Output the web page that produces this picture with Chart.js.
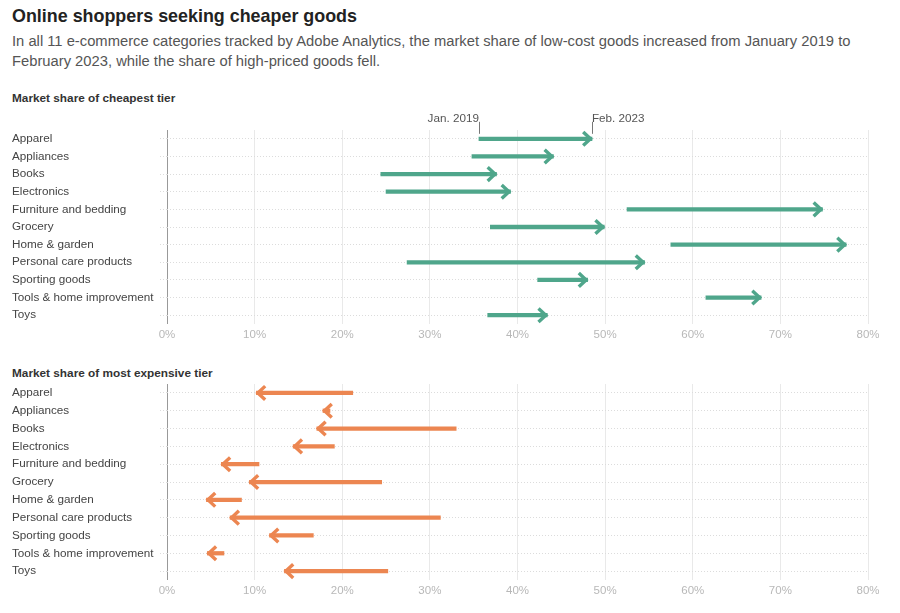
<!DOCTYPE html>
<html>
<head>
<meta charset="utf-8">
<script src="https://cdn.jsdelivr.net/npm/chart.js@4"></script>
<style>
  html, body { margin: 0; padding: 0; background: #fff; }
  body { width: 900px; height: 613px; position: relative; overflow: hidden;
         font-family: "Liberation Sans", Arial, Helvetica, sans-serif; }
  #title { position: absolute; left: 12px; top: 6px; font-size: 17.9px; font-weight: bold; color: #222; white-space: nowrap; }
  #sub { position: absolute; left: 12px; top: 31px; font-size: 14.75px; line-height: 20px; color: #555; white-space: nowrap; }
  .sec { position: absolute; left: 12px; font-size: 11.8px; font-weight: bold; color: #333; white-space: nowrap; }
  #c1wrap { position: absolute; left: 0; top: 105px; width: 890px; height: 245px; }
  #c2wrap { position: absolute; left: 0; top: 377px; width: 890px; height: 229px; }
</style>
</head>
<body>
<div id="title">Online shoppers seeking cheaper goods</div>
<div id="sub">In all 11 e-commerce categories tracked by Adobe Analytics, the market share of low-cost goods increased from January 2019 to<br>February 2023, while the share of high-priced goods fell.</div>
<div class="sec" style="top:91px">Market share of cheapest tier</div>
<div class="sec" style="top:366px">Market share of most expensive tier</div>
<div id="c1wrap"><canvas id="c1"></canvas></div>
<div id="c2wrap"><canvas id="c2"></canvas></div>
<script>
const categories = ["Apparel", "Appliances", "Books", "Electronics", "Furniture and bedding", "Grocery",
  "Home & garden", "Personal care products", "Sporting goods", "Tools & home improvement", "Toys"];
// Market share (%) of cheapest tier
const cheapJan2019 = [35.6, 34.8, 24.4, 25.0, 52.5, 36.9, 57.5, 27.4, 42.3, 61.5, 36.6];
const cheapFeb2023 = [48.5, 44.1, 37.6, 39.2, 74.8, 49.9, 77.5, 54.5, 48.0, 67.8, 43.4];
// Market share (%) of most expensive tier
const expJan2019 = [21.2, 18.6, 33.0, 19.1, 10.5, 24.5, 8.5, 31.2, 16.7, 6.5, 25.2];
const expFeb2023 = [10.2, 17.8, 17.1, 14.4, 6.2, 9.4, 4.5, 7.2, 11.7, 4.6, 13.4];
const xTicks = [0, 10, 20, 30, 40, 50, 60, 70, 80];
const annoStart = "Jan. 2019";
const annoEnd = "Feb. 2023";

const FONT = '"Liberation Sans", Arial, Helvetica, sans-serif';

function arrowPlugin(color, annotate) {
  return {
    id: 'arrows',
    afterDatasetsDraw(chart) {
      const ctx = chart.ctx;
      const xs = chart.scales.x, ys = chart.scales.y;
      const ds = chart.data.datasets[0].data;
      ctx.save();
      ctx.strokeStyle = color;
      ctx.lineWidth = 3.4;
      ctx.lineCap = 'butt';
      ctx.lineJoin = 'miter';
      ds.forEach((d, i) => {
        const dir = d[1] >= d[0] ? 1 : -1;
        const tip = xs.getPixelForValue(d[1]) - dir * 1.5;
        const y = ys.getPixelForValue(i);
        ctx.beginPath();
        ctx.moveTo(tip - dir * 7.3, y - 6.8);
        ctx.lineTo(tip, y);
        ctx.lineTo(tip - dir * 7.3, y + 6.8);
        ctx.stroke();
      });
      if (annotate) {
        const d = ds[0];
        const y0 = ys.getPixelForValue(0);
        const xa = xs.getPixelForValue(d[0]);
        const xb = xs.getPixelForValue(d[1]);
        ctx.strokeStyle = '#777';
        ctx.lineWidth = 1;
        ctx.beginPath();
        ctx.moveTo(Math.round(xa) + 0.5, y0 - 17); ctx.lineTo(Math.round(xa) + 0.5, y0 - 5);
        ctx.moveTo(Math.round(xb) + 0.5, y0 - 17); ctx.lineTo(Math.round(xb) + 0.5, y0 - 5);
        ctx.stroke();
        ctx.fillStyle = '#555';
        ctx.font = '11.7px ' + FONT;
        ctx.textBaseline = 'middle';
        ctx.textAlign = 'right';
        ctx.fillText(annoStart, xa, y0 - 20);
        ctx.textAlign = 'left';
        ctx.fillText(annoEnd, xb, y0 - 20);
      }
      ctx.restore();
    }
  };
}

function makeChart(id, starts, ends, color, padTop, annotate) {
  const data = starts.map((s, i) => [s, ends[i]]);
  return new Chart(document.getElementById(id), {
    type: 'bar',
    data: {
      labels: categories,
      datasets: [{
        data: data,
        backgroundColor: color,
        borderWidth: 0,
        barThickness: 3.6,
        borderSkipped: false
      }]
    },
    options: {
      indexAxis: 'y',
      responsive: true,
      maintainAspectRatio: false,
      animation: false,
      layout: { padding: { top: padTop, bottom: 4, left: 12, right: 22 } },
      plugins: { legend: { display: false }, tooltip: { enabled: false } },
      scales: {
        x: {
          type: 'linear',
          min: 0, max: 80,
          afterBuildTicks(scale) { scale.ticks = xTicks.map(v => ({ value: v })); },
          afterFit(scale) { scale.height = 22; },
          grid: {
            drawTicks: false,
            color: (c) => (c.tick && c.tick.value === 0) ? '#999' : '#e9e9e9',
            lineWidth: 1
          },
          border: { display: false },
          ticks: {
            padding: 4,
            color: '#b8b8b8',
            font: { family: FONT, size: 11.5 },
            callback: (v) => v + '%'
          }
        },
        y: {
          type: 'category',
          afterFit(scale) { scale.width = 155; },
          grid: {
            offset: false,
            drawTicks: true,
            tickLength: 7,
            color: '#dcdcdc',
            tickColor: '#dcdcdc',
            tickBorderDash: [1, 2],
            lineWidth: 1
          },
          border: { display: false, dash: [1, 2] },
          ticks: {
            crossAlign: 'far',
            padding: 0,
            color: '#444',
            font: { family: FONT, size: 11.7 }
          }
        }
      }
    },
    plugins: [arrowPlugin(color, annotate)]
  });
}

makeChart('c1', cheapJan2019, cheapFeb2023, '#4fa68b', 25, true);
makeChart('c2', expJan2019, expFeb2023, '#ec8651', 2, false);
</script>
</body>
</html>
